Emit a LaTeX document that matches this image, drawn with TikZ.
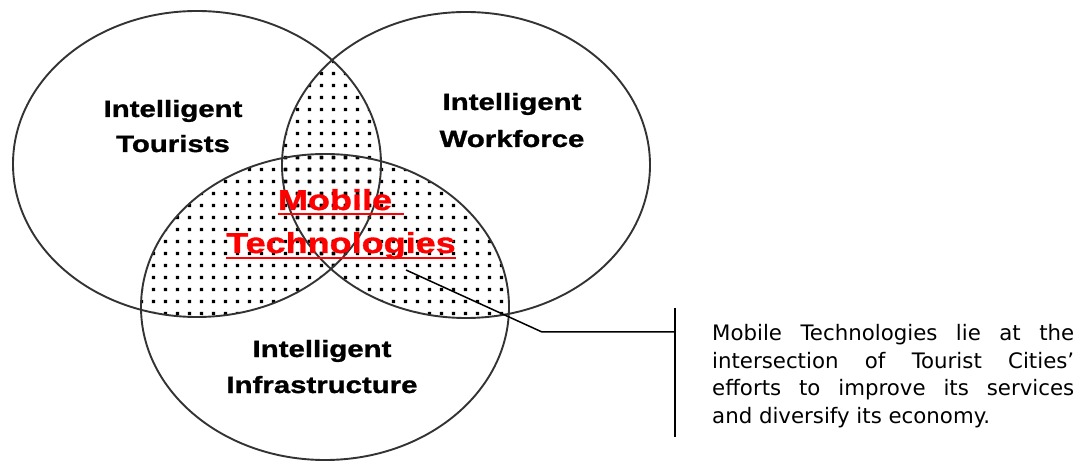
\documentclass[tikz,border=0pt]{standalone}
\usepackage{fontspec}
\newfontfamily\lblfont[FakeStretch=1.25,FakeBold=1.2]{Liberation Sans}
\newfontfamily\notefont{DejaVu Sans}
\begin{document}
\begin{tikzpicture}
[x=1pt, y=-1pt,
  vennsize/.style={x radius=184pt, y radius=153pt},
  ringDecorate/.style={draw=black!80, line width=1.9pt},
  labelDecorate/.style={anchor=base, inner sep=0pt, font=\lblfont\bfseries\fontsize{23.5}{35}\selectfont},
  mobileDecorate/.style={anchor=base, inner sep=0pt, text=red, font=\lblfont\bfseries\fontsize{28.8}{43}\selectfont},
  lineDecorate/.style={line width=1.5pt},
  noteDecorate/.style={anchor=north west, inner sep=0pt, text width=362pt, align=justify, font=\notefont\fontsize{21.3}{27.7}\selectfont}]
\useasboundingbox (0,0) rectangle (1090,462);
%% dotted overlaps
\foreach \ax/\ay/\bx/\by in {197/164/466/165, 197/164/325/307, 466/165/325/307}
{
  \begin{scope}
    \clip (\ax,\ay) ellipse [vennsize];
    \clip (\bx,\by) ellipse [vennsize];
    \fill \foreach \i in {11,...,42} { \foreach \j in {5,...,27} { (12*\i+7.8,12*\j-0.2) rectangle ++(3.4,3.4) } };
  \end{scope}
}
%% ellipses
\foreach \x/\y in {197/164, 466/165, 325/307}
{
  \draw[ringDecorate] (\x,\y) ellipse [vennsize];
}
%% labels
\foreach \nodename/\x/\y/\txt in {
  tourA/173/117/Intelligent, tourB/173/152/Tourists,
  workA/512/110/Intelligent, workB/512/147/Workforce,
  infraA/322/357/Intelligent, infraB/322/393/Infrastructure}
{
  \node (\nodename) at (\x,\y) [labelDecorate] {\txt};
}
\node (mobA) at (335,210) [mobileDecorate] {Mobile};
\node (mobB) at (341,253) [mobileDecorate] {Technologies};
\draw[red, line width=1.8pt] ([yshift=-4pt]mobA.base west) -- ([yshift=-4pt,xshift=12pt]mobA.base east);
\draw[red, line width=1.8pt] ([yshift=-5pt]mobB.base west) -- ([yshift=-5pt]mobB.base east);
%% callout
\coordinate (tip) at (406,270);
\coordinate (knee) at (542,332);
\coordinate (barTop) at (675,308);
\coordinate (barBot) at (675,437);
\draw[lineDecorate] (tip) -- (knee) -- (knee -| barTop);
\draw[line width=2pt] (barTop) -- (barBot);
\node (note) at (712,324) [noteDecorate] {Mobile Technologies lie at the\linebreak intersection of Tourist Cities’\linebreak efforts to improve its services\linebreak and diversify its economy.};
\end{tikzpicture}
\end{document}
